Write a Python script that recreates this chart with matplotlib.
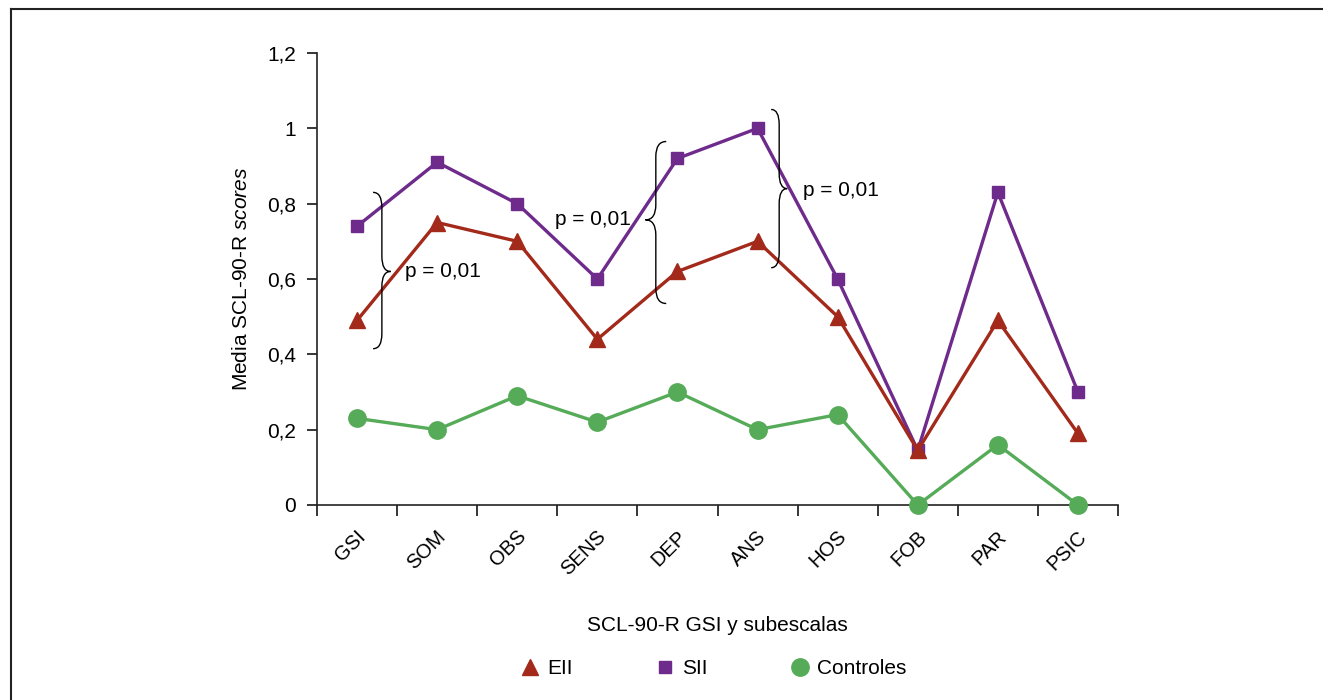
import matplotlib.pyplot as plt
import numpy as np
from matplotlib.lines import Line2D
from matplotlib.path import Path
from matplotlib.patches import PathPatch
from matplotlib.ticker import FuncFormatter
import matplotlib.transforms as mtransforms

plt.rcParams['font.family'] = ['Liberation Sans', 'DejaVu Sans']
plt.rcParams['mathtext.fontset'] = 'custom'
plt.rcParams['mathtext.rm'] = 'Liberation Sans'
plt.rcParams['mathtext.it'] = 'Liberation Sans:italic'

# Data
subescalas = ["GSI", "SOM", "OBS", "SENS", "DEP", "ANS", "HOS", "FOB", "PAR", "PSIC"]
eii = [0.49, 0.75, 0.70, 0.44, 0.62, 0.70, 0.50, 0.145, 0.49, 0.19]
sii = [0.74, 0.91, 0.80, 0.60, 0.92, 1.00, 0.60, 0.145, 0.83, 0.30]
controles = [0.23, 0.20, 0.29, 0.22, 0.30, 0.20, 0.24, 0.0, 0.16, 0.0]
y_ticks = [0, 0.2, 0.4, 0.6, 0.8, 1.0, 1.2]

c_eii = "#a32a1b"
c_sii = "#6e2b8c"
c_ctrl = "#55ab58"

fig = plt.figure(figsize=(13.23, 7.0), dpi=100)
ax = fig.add_axes([317 / 1323, 1 - 505 / 700, (1118 - 317) / 1323, (505 - 53) / 700])

x = np.arange(len(subescalas))
ax.plot(x, controles, color=c_ctrl, lw=2.4, marker='o', ms=12.5, zorder=3, clip_on=False)
ax.plot(x, sii, color=c_sii, lw=2.4, marker='s', ms=9.2, zorder=3)
ax.plot(x, eii, color=c_eii, lw=2.4, marker='^', ms=12, zorder=4)

ax.set_xlim(-0.5, len(subescalas) - 0.5)
ax.set_ylim(0, 1.2)
ax.set_yticks(y_ticks)
ax.yaxis.set_major_formatter(FuncFormatter(lambda v, p: f"{v:g}".replace(".", ",")))

ax.tick_params(axis='x', which='major', direction='out', length=8, width=1.1)
ax.tick_params(axis='x', which='minor', length=0, pad=22)
ax.tick_params(axis='y', direction='out', length=7, width=1.1, pad=8, labelsize=15)

# category axis: ticks at boundaries, labels at centres
ax.set_xticks(np.arange(-0.5, len(subescalas), 1.0))
ax.set_xticklabels([])
ax.set_xticks(x, minor=True)
ax.set_xticklabels(subescalas, minor=True, rotation=45, ha='right', va='center',
                   rotation_mode='anchor', fontsize=14.5)
offset = mtransforms.ScaledTranslation(6 / 100, 2 / 100, fig.dpi_scale_trans)
for lab in ax.get_xticklabels(minor=True):
    lab.set_transform(lab.get_transform() + offset)

for s in ['top', 'right']:
    ax.spines[s].set_visible(False)
for s in ['left', 'bottom']:
    ax.spines[s].set_linewidth(1.2)
    ax.spines[s].set_color('#222222')

ax.set_xlabel("SCL-90-R GSI y subescalas", fontsize=15, labelpad=27)
ax.set_ylabel(r"Media SCL-90-R $\mathit{scores}$", fontsize=15, labelpad=12)


def brace(xb, xt, yt, yb, ym, r=0.04):
    w = xt - xb
    verts = [(xb - w, yt), (xb, yt), (xb, yt - r),
             (xb, ym + r),
             (xb, ym), (xt, ym),
             (xb, ym), (xb, ym - r),
             (xb, yb + r),
             (xb, yb), (xb - w, yb)]
    codes = [Path.MOVETO, Path.CURVE3, Path.CURVE3,
             Path.LINETO,
             Path.CURVE3, Path.CURVE3,
             Path.CURVE3, Path.CURVE3,
             Path.LINETO,
             Path.CURVE3, Path.CURVE3]
    ax.add_patch(PathPatch(Path(verts, codes), fill=False, lw=1.0, color='black', zorder=5))


# significance braces
brace(0.31, 0.42, 0.83, 0.415, 0.62)
brace(3.73, 3.60, 0.965, 0.535, 0.757)
brace(5.27, 5.37, 1.05, 0.63, 0.84)
ax.text(0.6, 0.62, "p = 0,01", fontsize=15, va='center', ha='left')
ax.text(3.42, 0.757, "p = 0,01", fontsize=15, va='center', ha='right')
ax.text(5.57, 0.835, "p = 0,01", fontsize=15, va='center', ha='left')

handles = [
    Line2D([], [], ls='none', marker='^', ms=12, color=c_eii, label='EII'),
    Line2D([], [], ls='none', marker='s', ms=9, color=c_sii, label='SII'),
    Line2D([], [], ls='none', marker='o', ms=12.5, color=c_ctrl, label='Controles'),
]
fig.legend(handles=handles, loc='center', bbox_to_anchor=(713 / 1323, 1 - 669 / 700),
           ncol=3, frameon=False, fontsize=15, handlelength=1.0, handletextpad=0.35,
           columnspacing=3.9)

# outer frame (left and top only)
fig.add_artist(Line2D([11 / 1323, 11 / 1323], [0, 1 - 9 / 700], color='#222222', lw=1.5,
                      transform=fig.transFigure))
fig.add_artist(Line2D([11 / 1323, 1], [1 - 9 / 700, 1 - 9 / 700], color='#222222', lw=1.5,
                      transform=fig.transFigure))

fig.savefig("out.png", dpi=100)
